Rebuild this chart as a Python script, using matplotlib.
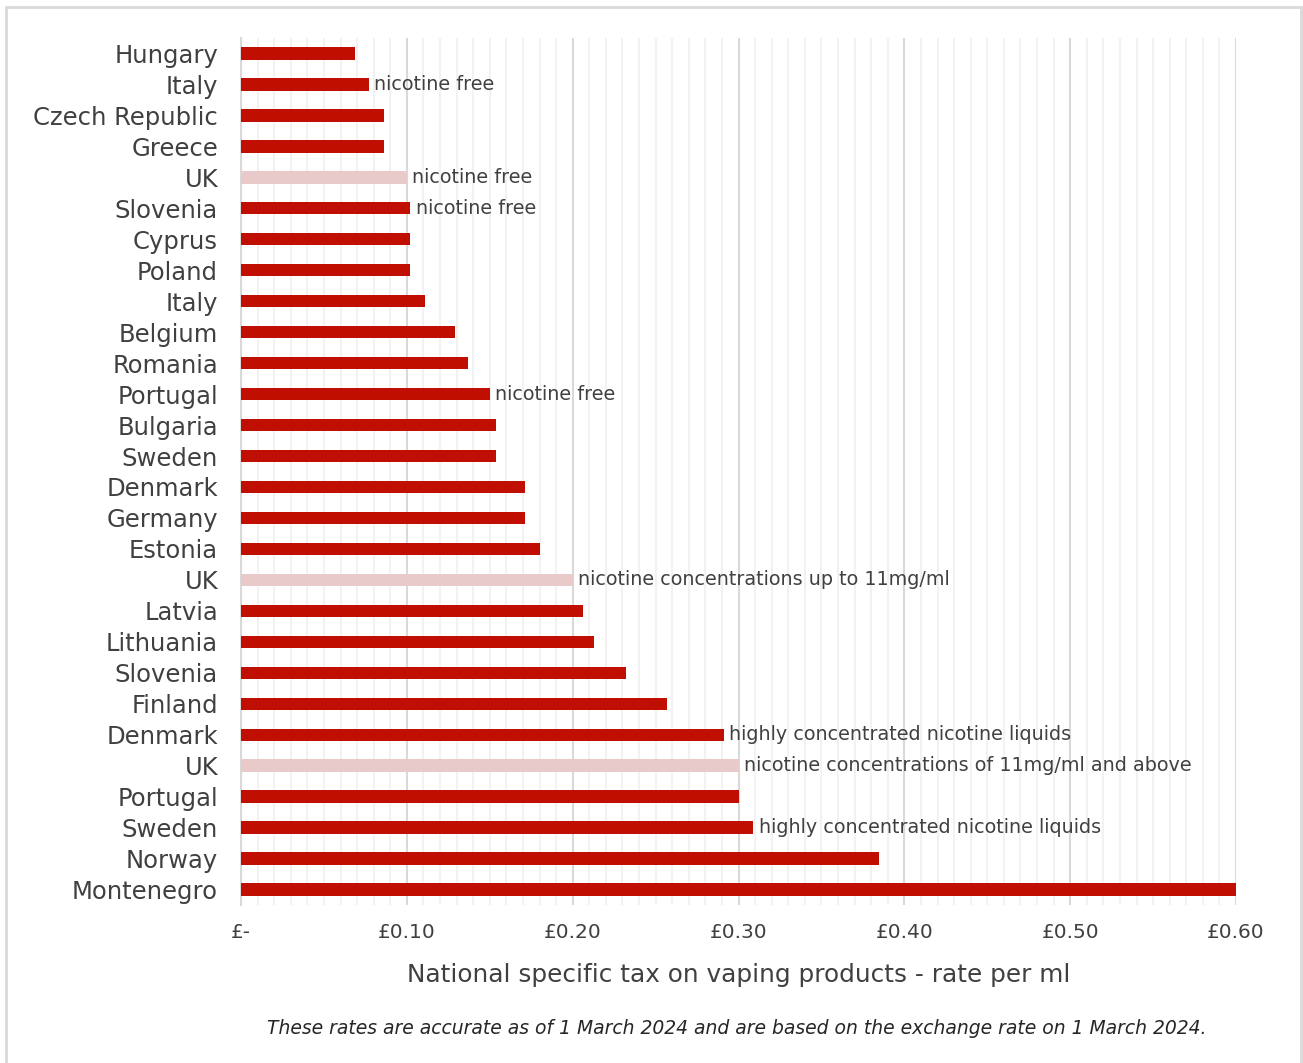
import numpy as np
import matplotlib.pyplot as plt
from matplotlib.patches import Rectangle
from matplotlib.ticker import MultipleLocator, FuncFormatter

# data (GBP per ml)
countries = ["Hungary", "Italy", "Czech Republic", "Greece", "UK", "Slovenia", "Cyprus",
             "Poland", "Italy", "Belgium", "Romania", "Portugal", "Bulgaria", "Sweden",
             "Denmark", "Germany", "Estonia", "UK", "Latvia", "Lithuania", "Slovenia",
             "Finland", "Denmark", "UK", "Portugal", "Sweden", "Norway", "Montenegro"]
rates = [0.069, 0.077, 0.086, 0.086, 0.100, 0.102, 0.102, 0.102, 0.111, 0.129, 0.137,
         0.150, 0.154, 0.154, 0.171, 0.171, 0.180, 0.200, 0.206, 0.213, 0.232, 0.257,
         0.291, 0.300, 0.300, 0.309, 0.385, 0.600]
notes = ["", "nicotine free", "", "", "nicotine free", "nicotine free", "", "", "", "", "",
         "nicotine free", "", "", "", "", "", "nicotine concentrations up to 11mg/ml", "", "",
         "", "", "highly concentrated nicotine liquids",
         "nicotine concentrations of 11mg/ml and above", "",
         "highly concentrated nicotine liquids", "", ""]
is_uk = [c == "UK" for c in countries]

RED = "#C00F00"
PINK = "#E9CACA"
TXT = "#404040"

plt.rcParams['font.family'] = ['DejaVu Sans']

fig = plt.figure(figsize=(13.03, 10.63), dpi=100)
ax = fig.add_axes([241 / 1303, 1 - 905 / 1063, 995 / 1303, 867 / 1063])

# frame around the picture
fig.patches.append(Rectangle((6 / 1303, -0.05), 1295 / 1303, 1.05 - 7 / 1063,
                             transform=fig.transFigure, fill=False,
                             edgecolor="#d9d9d9", linewidth=2))

y = np.arange(len(countries))
colors = [PINK if u else RED for u in is_uk]
ax.barh(y, rates, height=0.4, color=colors, zorder=3)

for yi, r, n in zip(y, rates, notes):
    if n:
        ax.annotate(n, (r, yi), xytext=(4, 0), textcoords="offset points",
                    va="center", ha="left", fontsize=13.8, color=TXT, zorder=4)

ax.set_xlim(0, 0.6)
ax.set_ylim(len(countries) - 0.5, -0.5)
ax.set_yticks(y)
ax.set_yticklabels(countries, fontsize=17.5, color=TXT)

ax.xaxis.set_major_locator(MultipleLocator(0.1))
ax.xaxis.set_minor_locator(MultipleLocator(0.01))
ax.xaxis.set_major_formatter(FuncFormatter(lambda v, p: "£-" if abs(v) < 1e-9 else "£{:.2f}".format(v)))
ax.tick_params(axis="x", which="both", length=0, labelsize=14.5, labelcolor=TXT, pad=13)
ax.tick_params(axis="y", length=0, pad=16.5)

ax.grid(axis="x", which="major", color="#d9d9d9", linewidth=1.5, zorder=0)
ax.grid(axis="x", which="minor", color="#f2f2f2", linewidth=1.5, zorder=0)
for s in ["top", "right", "bottom"]:
    ax.spines[s].set_visible(False)
ax.spines["left"].set_color("#d9d9d9")
ax.spines["left"].set_linewidth(1.5)

ax.set_xlabel("National specific tax on vaping products - rate per ml", fontsize=17.8,
              color=TXT, labelpad=15)

fig.text(737 / 1303, 1 - 1028 / 1063,
         "These rates are accurate as of 1 March 2024 and are based on the exchange rate on 1 March 2024.",
         ha="center", va="center", fontsize=13.5, style="italic", color="#262626")

fig.savefig("out.png", dpi=100)
